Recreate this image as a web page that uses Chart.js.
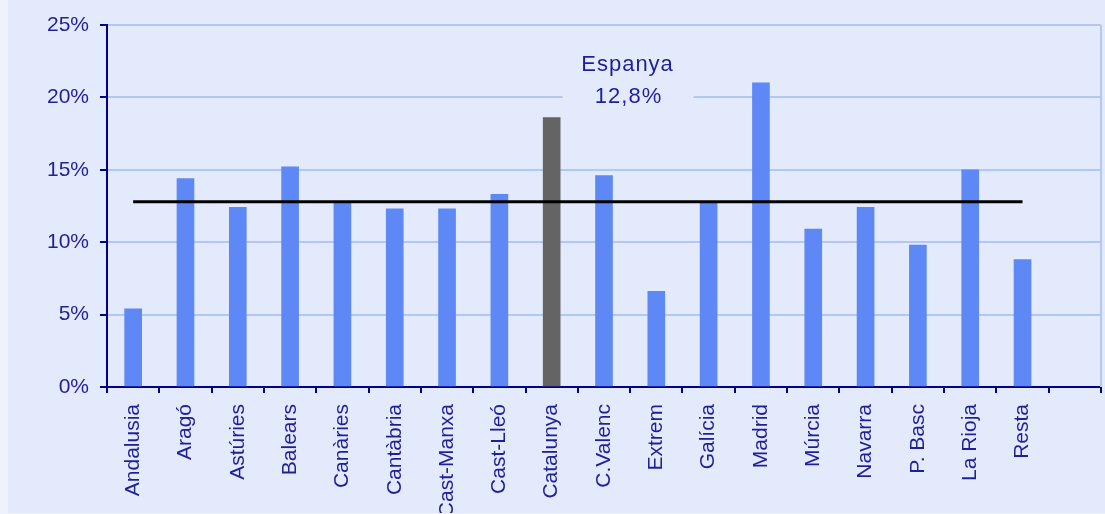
<!DOCTYPE html>
<html>
<head>
<meta charset="utf-8">
<script src="https://cdn.jsdelivr.net/npm/chart.js@4.4.1/dist/chart.umd.min.js"></script>
<style>
  html, body { margin: 0; padding: 0; background: #eef2fd; overflow: hidden; }
  #wrap { position: absolute; left: 8px; top: 0; width: 1097px; height: 513px; background: #e3eafb; }
</style>
</head>
<body>
<div id="wrap"><canvas id="regionChart"></canvas></div>
<script>
const regions = ["Andalusia", "Aragó", "Astúries", "Balears", "Canàries", "Cantàbria", "Cast-Manxa", "Cast-Lleó", "Catalunya", "C.Valenc", "Extrem", "Galícia", "Madrid", "Múrcia", "Navarra", "P. Basc", "La Rioja", "Resta", ""];
const shares = [5.4, 14.4, 12.4, 15.2, 12.8, 12.3, 12.3, 13.3, 18.6, 14.6, 6.6, 12.8, 21.0, 10.9, 12.4, 9.8, 15.0, 8.8, null];
const espanya = [12.8, 12.8, 12.8, 12.8, 12.8, 12.8, 12.8, 12.8, 12.8, 12.8, 12.8, 12.8, 12.8, 12.8, 12.8, 12.8, 12.8, 12.8, null];
const espanyaText = ["Espanya", "12,8%"];
const yTicks = [0, 5, 10, 15, 20, 25];

const navy = "#00008b";
const textColor = "#1f1f9c";
const bgColor = "#e3eafb";
const gridColor = "#b3c7f5";
const barBlue = "#5d88f5";
const barGrey = "#646464";
const font = "'Liberation Sans', Arial, sans-serif";

const barColors = regions.map(r => (r === "Catalunya" ? barGrey : barBlue));

const espanyaLabel = {
  id: "espanyaLabel",
  beforeDatasetsDraw(chart) {
    const { ctx, scales } = chart;
    const x = scales.x.getPixelForValue(9) + 0.45 * (scales.x.getPixelForValue(10) - scales.x.getPixelForValue(9));
    const y = scales.y.getPixelForValue(20);

    ctx.save();
    ctx.fillStyle = bgColor;
    ctx.fillRect(x - 65, y - 50, 131, 68);

    ctx.font = "22px " + font;
    ctx.letterSpacing = "1px";
    ctx.fillStyle = textColor;
    ctx.textAlign = "center";
    ctx.textBaseline = "middle";
    ctx.fillText(espanyaText[0], x, y - 32);
    ctx.fillText(espanyaText[1], x + 1, y);
    ctx.restore();
  },
  afterDraw(chart) {
    const { ctx, chartArea } = chart;
    ctx.save();
    ctx.strokeStyle = gridColor;
    ctx.lineWidth = 2;
    ctx.beginPath();
    ctx.moveTo(chartArea.right, chartArea.top);
    ctx.lineTo(chartArea.right, chartArea.bottom);
    ctx.stroke();
    ctx.restore();
  }
};

const ctx = document.getElementById("regionChart").getContext("2d");
const regionChart = new Chart(ctx, {
  type: "bar",
  plugins: [espanyaLabel],
  data: {
    labels: regions,
    datasets: [
      {
        type: "line",
        label: "Espanya",
        data: espanya,
        borderColor: "#000000",
        borderWidth: 3,
        pointRadius: 0,
        fill: false,
        order: 0
      },
      {
        label: "Regions",
        data: shares,
        backgroundColor: barColors,
        borderWidth: 0,
        barThickness: 17,
        order: 1
      }
    ]
  },
  options: {
    responsive: true,
    maintainAspectRatio: false,
    animation: false,
    layout: {
      padding: { top: 25, right: 4, left: 0, bottom: 0 }
    },
    plugins: {
      legend: { display: false },
      tooltip: { enabled: false }
    },
    scales: {
      x: {
        offset: true,
        grid: {
          offset: true,
          drawOnChartArea: false,
          drawTicks: true,
          tickLength: 6,
          color: navy,
          lineWidth: 2
        },
        border: { color: navy, width: 2 },
        ticks: {
          autoSkip: false,
          maxRotation: 90,
          minRotation: 90,
          padding: 11,
          color: textColor,
          font: { family: font, size: 21 }
        },
        afterFit(scale) {
          scale.height = 126;
          scale.paddingLeft = 0;
          scale.paddingRight = 0;
        }
      },
      y: {
        min: 0,
        max: 25,
        afterBuildTicks(scale) {
          scale.ticks = yTicks.map(v => ({ value: v }));
        },
        grid: {
          color: gridColor,
          tickColor: navy,
          lineWidth: 2,
          drawTicks: true,
          tickLength: 7
        },
        border: { color: navy, width: 2 },
        ticks: {
          padding: 11,
          color: textColor,
          font: { family: font, size: 21 },
          callback: function (value) {
            return value + "%";
          }
        },
        afterFit(scale) {
          scale.width = 99;
        }
      }
    }
  }
});
</script>
</body>
</html>
